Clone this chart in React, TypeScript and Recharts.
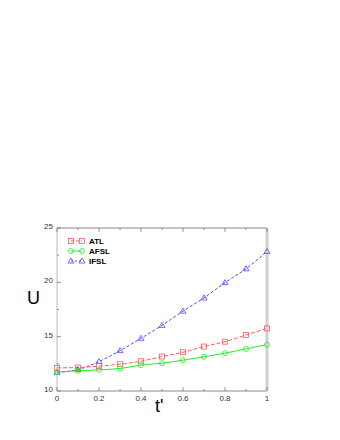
import React from "react"
import {
  LineChart,
  Line,
  XAxis,
  YAxis,
} from "recharts"

// t' values on the x axis
const tValues = [0, 0.1, 0.2, 0.3, 0.4, 0.5, 0.6, 0.7, 0.8, 0.9, 1]

// U values per curve
const atl = [12.13, 12.16, 12.29, 12.47, 12.74, 13.17, 13.57, 14.09, 14.54, 15.15, 15.76]
const afsl = [11.74, 11.86, 11.95, 12.07, 12.38, 12.56, 12.84, 13.14, 13.48, 13.87, 14.27]
const ifsl = [11.71, 11.98, 12.71, 13.72, 14.85, 16.04, 17.35, 18.57, 19.97, 21.25, 22.84]

const xTicks = [0, 0.1, 0.2, 0.3, 0.4, 0.5, 0.6, 0.7, 0.8, 0.9, 1]
const xLabels = ["0", "", "0.2", "", "0.4", "", "0.6", "", "0.8", "", "1"]
const yTicks = [10, 12.5, 15, 17.5, 20, 22.5, 25]
const yLabels = ["10", "", "15", "", "20", "", "25"]

const RED = "#ff5a5a"
const GREEN = "#22ee22"
const BLUE = "#4a4aff"

const data = tValues.map((t, i) => ({ t, atl: atl[i], afsl: afsl[i], ifsl: ifsl[i] }))

const font = "'Liberation Sans', Arial, sans-serif"

function BottomTick(props: any) {
  const { x, y, index } = props
  const label = xLabels[index]
  return (
    <g>
      <line x1={x} x2={x} y1={y} y2={y - (label ? 4 : 2)} stroke="#777" strokeWidth={0.8} />
      {label && (
        <text x={x} y={y + 10} textAnchor="middle" fontSize={8} fill="#333" fontFamily={font}>
          {label}
        </text>
      )}
    </g>
  )
}

function TopTick(props: any) {
  const { x, y, index } = props
  const label = xLabels[index]
  return <line x1={x} x2={x} y1={y} y2={y + (label ? 4 : 2)} stroke="#777" strokeWidth={0.8} />
}

function LeftTick(props: any) {
  const { x, y, index } = props
  const label = yLabels[index]
  return (
    <g>
      <line x1={x} x2={x + (label ? 4 : 2)} y1={y} y2={y} stroke="#777" strokeWidth={0.8} />
      {label && (
        <text x={x - 4} y={y + 1} textAnchor="end" fontSize={8} fill="#333" fontFamily={font}>
          {label}
        </text>
      )}
    </g>
  )
}

function RightTick(props: any) {
  const { x, y, index } = props
  const label = yLabels[index]
  return <line x1={x - 1} x2={x - 1 - (label ? 4 : 2)} y1={y} y2={y} stroke="#777" strokeWidth={0.8} />
}

function SquareDot(props: any) {
  const { cx, cy, index } = props
  return <rect key={"s" + index} x={cx - 2.5} y={cy - 2.5} width={5} height={5} fill="none" stroke={RED} strokeWidth={0.8} />
}

function CircleDot(props: any) {
  const { cx, cy, index } = props
  return <circle key={"c" + index} cx={cx} cy={cy} r={2.5} fill="none" stroke={GREEN} strokeWidth={0.8} />
}

function TriangleDot(props: any) {
  const { cx, cy, index } = props
  return (
    <polygon
      key={"t" + index}
      points={`${cx},${cy - 3} ${cx - 3},${cy + 2} ${cx + 3},${cy + 2}`}
      fill="none"
      stroke={BLUE}
      strokeWidth={0.8}
    />
  )
}

function LegendRow({ color, dash, marker, label }: any) {
  const m = (cx: number) => {
    if (marker === "square") return <rect x={cx - 2.5} y={2.5} width={5} height={5} fill="none" stroke={color} strokeWidth={0.8} />
    if (marker === "circle") return <circle cx={cx} cy={5} r={2.5} fill="none" stroke={color} strokeWidth={0.8} />
    return <polygon points={`${cx},2 ${cx - 3},7 ${cx + 3},7`} fill="none" stroke={color} strokeWidth={0.8} />
  }
  return (
    <div style={{ display: "flex", alignItems: "center", height: 10 }}>
      <svg width={18} height={10}>
        <line x1={3} x2={14} y1={5} y2={5} stroke={color} strokeWidth={1} strokeDasharray={dash} />
        {m(3)}
        {m(14)}
      </svg>
      <span style={{ fontSize: 8, fontWeight: "bold", marginLeft: 3, fontFamily: font, color: "#000" }}>{label}</span>
    </div>
  )
}

export default function App() {
  return (
    <div style={{ position: "absolute", left: 0, top: 0, width: 340, height: 440, background: "#fff" }}>
      <LineChart
        width={340}
        height={440}
        data={data}
        margin={{ top: 227, left: 56, right: 72, bottom: 48 }}
      >
        <XAxis
          dataKey="t"
          type="number"
          domain={[0, 1]}
          ticks={xTicks}
          interval={0}
          height={1}
          tickSize={0}
          tickMargin={0}
          tick={<BottomTick />}
          axisLine={{ stroke: "#888", strokeWidth: 1 }}
        />
        <XAxis
          xAxisId="top"
          orientation="top"
          dataKey="t"
          type="number"
          domain={[0, 1]}
          ticks={xTicks}
          interval={0}
          height={1}
          tickSize={0}
          tickMargin={0}
          tick={<TopTick />}
          axisLine={{ stroke: "#888", strokeWidth: 1 }}
        />
        <YAxis
          type="number"
          domain={[10, 25]}
          ticks={yTicks}
          interval={0}
          width={1}
          tickSize={0}
          tickMargin={0}
          tick={<LeftTick />}
          axisLine={{ stroke: "#bbb", strokeWidth: 1 }}
        />
        <YAxis
          yAxisId="right"
          orientation="right"
          type="number"
          domain={[10, 25]}
          ticks={yTicks}
          interval={0}
          width={1}
          tickSize={0}
          tickMargin={0}
          tick={<RightTick />}
          axisLine={{ stroke: "#d0d0d0", strokeWidth: 3 }}
        />
        <Line
          type="monotone"
          dataKey="ifsl"
          stroke={BLUE}
          strokeWidth={1}
          strokeDasharray="3 2"
          dot={<TriangleDot />}
          isAnimationActive={false}
        />
        <Line
          type="monotone"
          dataKey="atl"
          stroke={RED}
          strokeWidth={1}
          strokeDasharray="4 2"
          dot={<SquareDot />}
          isAnimationActive={false}
        />
        <Line
          type="monotone"
          dataKey="afsl"
          stroke={GREEN}
          strokeWidth={1}
          dot={<CircleDot />}
          isAnimationActive={false}
        />
      </LineChart>

      <div style={{ position: "absolute", left: 68, top: 236 }}>
        <LegendRow color={RED} dash="3 2" marker="square" label="ATL" />
        <LegendRow color={GREEN} marker="circle" label="AFSL" />
        <LegendRow color={BLUE} dash="2 2" marker="triangle" label="IFSL" />
      </div>

      <div style={{ position: "absolute", left: 27, top: 288, fontSize: 18, fontFamily: font, color: "#000" }}>U</div>
      <div style={{ position: "absolute", left: 155, top: 396, fontSize: 18, fontFamily: font, color: "#000" }}>t'</div>
    </div>
  )
}
